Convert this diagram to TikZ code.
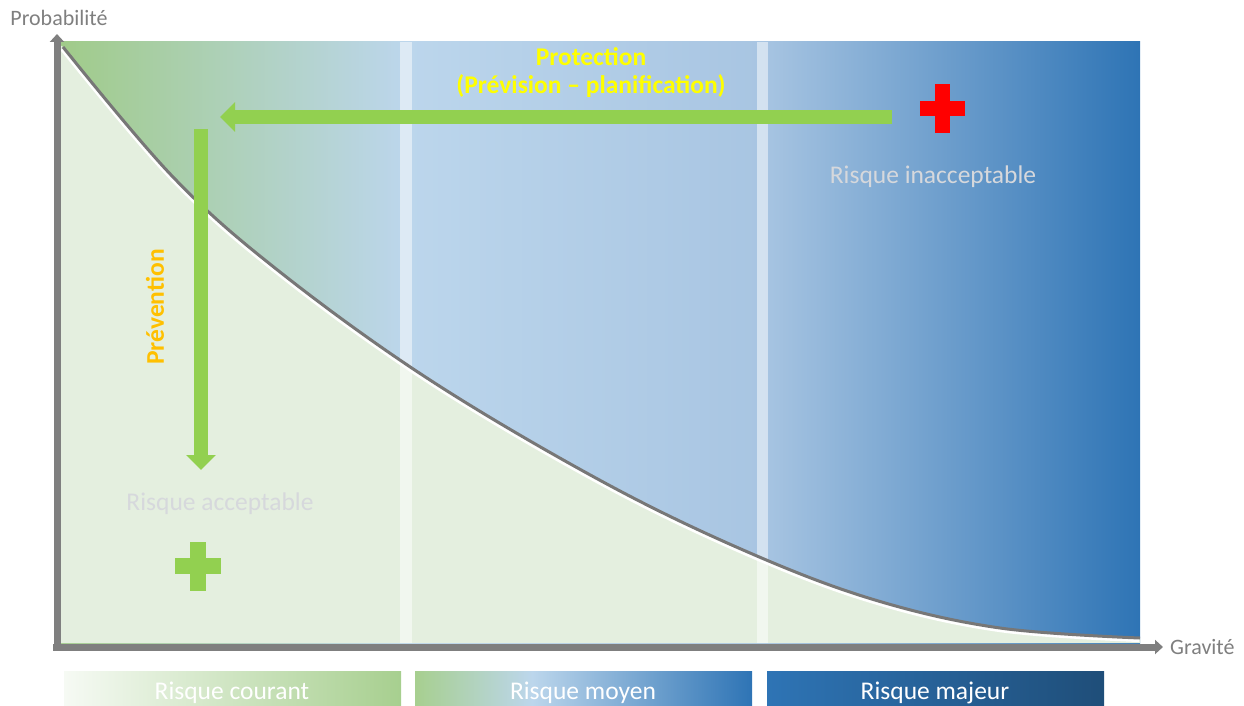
\documentclass[tikz,border=0pt]{standalone}
\usepackage{fontspec}
\setmainfont{Carlito}
\usetikzlibrary{arrows.meta}
\definecolor{gDark}{HTML}{A0CB89}
\definecolor{bLight}{HTML}{BCD6EC}
\definecolor{bMid}{HTML}{A8C5E2}
\definecolor{bDark}{HTML}{2E74B5}
\definecolor{lgreen}{HTML}{E4EFDF}
\definecolor{axisgray}{HTML}{7F7F7F}
\definecolor{curvegray}{HTML}{777777}
\definecolor{arrowgreen}{HTML}{92D050}
\definecolor{protyellow}{HTML}{FFFF00}
\definecolor{prevorange}{HTML}{FFC000}
\definecolor{labelgray}{HTML}{D6D8DC}
\definecolor{barWhite}{HTML}{F6FAF4}
\definecolor{barGreen}{HTML}{A7CF8F}
\definecolor{barNavy}{HTML}{1F4E79}
\definecolor{barBright}{HTML}{0B6FC0}
\tikzset{
  axisline/.style={draw=axisgray, line width=7pt, -{Triangle[length=8pt,width=14pt]}},
  bigarrow/.style={draw=arrowgreen, line width=14.5pt, -{Triangle[length=15pt,width=29pt]}},
  axislabel/.style={text=axisgray, font=\fontsize{22}{26}\selectfont, inner sep=0pt},
  zonelabel/.style={text=labelgray, font=\fontsize{25.5}{30}\selectfont, inner sep=0pt},
  barlabel/.style={text=white, font=\fontsize{25.5}{30}\selectfont, inner sep=0pt},
  actionlabel/.style={font=\bfseries\fontsize{25.5}{28}\selectfont, inner sep=0pt},
  stripe/.style={fill=white, opacity=0.5},
  curvepts/.style={smooth, tension=0.6},
}
\begin{document}
\begin{tikzpicture}[x=1pt,y=-1pt]
\useasboundingbox (0,0) rectangle (1244,706);
% upper zones (gradient)
\shade[left color=gDark, right color=bLight] (60,42) rectangle (406,643);
\shade[left color=bLight, right color=bMid] (406,42) rectangle (762,643);
\shade[left color=bMid, right color=bDark] (762,42) rectangle (1140,643);
% acceptable zone under the curve
\fill[lgreen] (60,45) -- plot[curvepts] coordinates {(63,47) (173,177) (280,272) (430,380) (605,483) (750,553) (875,600) (1000,628) (1140,638)} -- (1140,643) -- (60,643) -- cycle;
% stripes
\fill[stripe] (400,42) rectangle (412,643);
\fill[stripe] (757,42) rectangle (768,643);
% curve
\begin{scope}[shift={(-0.8,1.8)}]
\draw[white, line width=4.5pt] plot[curvepts] coordinates {(63,47) (173,177) (280,272) (430,380) (605,483) (750,553) (875,600) (1000,628) (1140,638)};
\end{scope}
\draw[curvegray, line width=3pt] plot[curvepts] coordinates {(63,47) (173,177) (280,272) (430,380) (605,483) (750,553) (875,600) (1000,628) (1140,638)};
% axes
\coordinate (ybot) at (57,651);
\coordinate (ytop) at (57,34);
\coordinate (xleft) at (53,647);
\coordinate (xright) at (1163,647);
\draw[axisline] (ybot) -- (ytop);
\draw[axisline] (xleft) -- (xright);
\node[axislabel, anchor=base] (prob) at (59,26) {Probabilité};
\node[axislabel, anchor=base west] (grav) at (1170,654) {Gravité};
% arrows
\coordinate (ptail) at (892,117);
\coordinate (phead) at (220,117);
\draw[bigarrow] (ptail) -- (phead);
\coordinate (vtail) at (201,129);
\coordinate (vhead) at (201,470);
\draw[bigarrow] (vtail) -- (vhead);
\node[actionlabel, text=protyellow, anchor=base] (prot) at (591,66) {Protection};
\node[actionlabel, text=protyellow, anchor=base] (prev2) at (591,94) {(Prévision – planification)};
\node[actionlabel, text=prevorange, rotate=90] (prev) at (155,307) {Prévention};
% crosses
\fill[red] (935,84) rectangle (950,133);
\fill[red] (920,101) rectangle (965,116);
\fill[arrowgreen] (190,542) rectangle (206,591);
\fill[arrowgreen] (175,558) rectangle (221,574);
% zone labels
\node[zonelabel, anchor=base] (inacc) at (933,183) {Risque inacceptable};
\node[zonelabel, anchor=base] (acc) at (220,510) {Risque acceptable};
% bottom bars
\shade[left color=barWhite, right color=barGreen] (64,671) rectangle (401,706);
\node[barlabel, anchor=base] (courant) at (232,699) {Risque courant};
\shade[left color=barGreen, right color=bLight] (415,671) rectangle (532,706);
\shade[left color=bLight, right color=bDark] (532,671) rectangle (752,706);
\node[barlabel, anchor=base] (moyen) at (583,699) {Risque moyen};
\shade[left color=bDark, middle color=barBright, right color=barNavy] (767,671) rectangle (1104,706);
\node[barlabel, anchor=base] (majeur) at (935,699) {Risque majeur};
\end{tikzpicture}
\end{document}
